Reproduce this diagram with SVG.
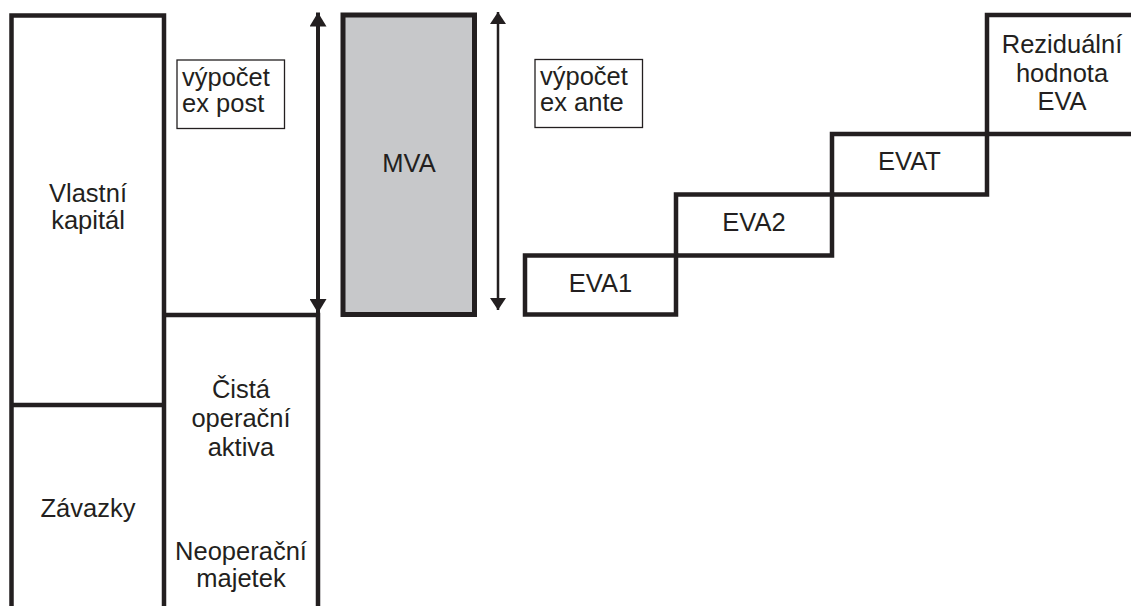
<svg xmlns="http://www.w3.org/2000/svg" width="1131" height="609" viewBox="0 0 1131 609">
  <style>
    .thick { fill: none; stroke: #231f20; stroke-width: 4.5; stroke-linecap: butt; }
    .thin { fill: #ffffff; stroke: #231f20; stroke-width: 1.3; }
    .lbl { font-family: "Liberation Sans", Arial, sans-serif; font-size: 25.5px; fill: #231f20; }
    .mid { text-anchor: middle; }
  </style>
  <defs>
    <marker id="headBig" viewBox="0 0 14 17" refX="14" refY="8.5" markerWidth="14" markerHeight="17" markerUnits="userSpaceOnUse" orient="auto-start-reverse">
      <path d="M0,0 L14,8.5 L0,17 Z" fill="#231f20"/>
    </marker>
    <marker id="headSmall" viewBox="0 0 12 16" refX="12" refY="8" markerWidth="12" markerHeight="16" markerUnits="userSpaceOnUse" orient="auto-start-reverse">
      <path d="M0,0 L12,8 L0,16 Z" fill="#231f20"/>
    </marker>
  </defs>
  <rect width="1131" height="609" fill="#ffffff"/>

  <g id="vlastni-kapital">
    <path class="thick" d="M11.5,606 V15.5 H164 V606"/>
    <text class="lbl mid" x="88" y="202">Vlastní</text>
    <text class="lbl mid" x="88" y="229">kapitál</text>
  </g>

  <g id="zavazky">
    <line class="thick" x1="11.5" y1="405" x2="164" y2="405"/>
    <text class="lbl mid" x="88" y="517">Závazky</text>
  </g>

  <g id="aktiva">
    <path class="thick" d="M164,315 H318 V606"/>
    <text class="lbl mid" x="241" y="398">Čistá</text>
    <text class="lbl mid" x="241" y="427">operační</text>
    <text class="lbl mid" x="241" y="456">aktiva</text>
    <text class="lbl mid" x="241" y="560">Neoperační</text>
    <text class="lbl mid" x="241" y="587">majetek</text>
  </g>

  <g id="ex-post">
    <rect class="thin" x="177" y="60" width="107.5" height="68.5"/>
    <text class="lbl" x="182" y="86">výpočet</text>
    <text class="lbl" x="182" y="112">ex post</text>
  </g>

  <g id="mva">
    <rect x="343" y="15" width="131.5" height="299.5" fill="#c7c8ca" stroke="#231f20" stroke-width="5"/>
    <text class="lbl mid" x="409" y="172">MVA</text>
  </g>

  <g id="ex-ante">
    <rect class="thin" x="535" y="59.5" width="107.5" height="68"/>
    <text class="lbl" x="540" y="85">výpočet</text>
    <text class="lbl" x="540" y="111">ex ante</text>
  </g>

  <g id="eva1">
    <path class="thick" d="M525,255.5 H676 V314.5 H525 Z"/>
    <text class="lbl mid" x="600.5" y="292">EVA1</text>
  </g>

  <g id="eva2">
    <path class="thick" d="M676,255.5 V194.5 H832 V255.5 H676"/>
    <text class="lbl mid" x="754" y="231">EVA2</text>
  </g>

  <g id="evat">
    <path class="thick" d="M832,194.5 V134 H987 V194.5 H832"/>
    <text class="lbl mid" x="909.5" y="170">EVAT</text>
  </g>

  <g id="rezidualni-hodnota">
    <path class="thick" d="M987,134 V15 H1131 M987,134 H1131"/>
    <text class="lbl mid" x="1062" y="53">Reziduální</text>
    <text class="lbl mid" x="1062" y="82">hodnota</text>
    <text class="lbl mid" x="1062" y="110">EVA</text>
  </g>

  <g id="connectors">
    <line x1="318" y1="12.5" x2="318" y2="313" stroke="#231f20" stroke-width="4" marker-start="url(#headBig)" marker-end="url(#headBig)"/>
    <line x1="498" y1="12" x2="498" y2="310" stroke="#231f20" stroke-width="2.5" marker-start="url(#headSmall)" marker-end="url(#headSmall)"/>
  </g>
</svg>
